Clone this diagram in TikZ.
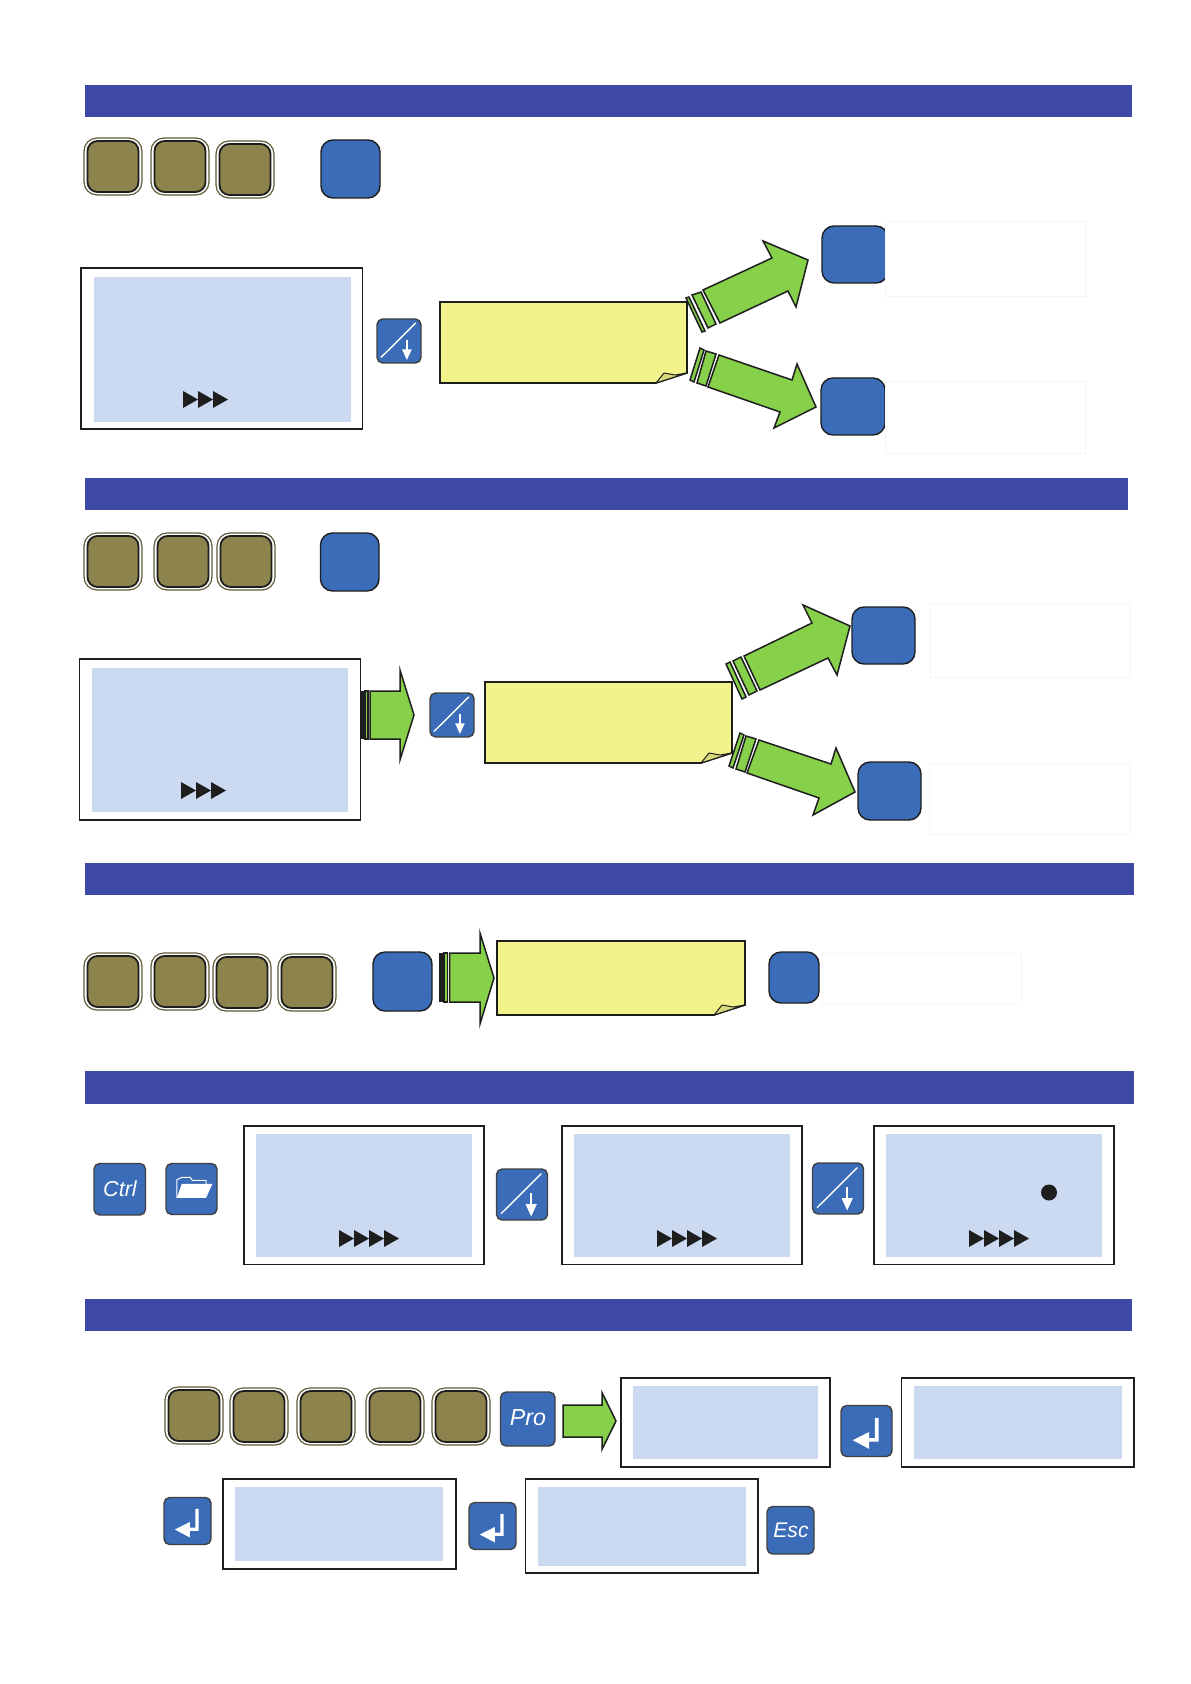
\documentclass[tikz,border=0pt]{standalone}
\usepackage{fontspec}
\setmainfont{Liberation Sans}
\usepackage{xcolor}
\usepackage{tikz}
\definecolor{barblue}{HTML}{3E48A5}
\definecolor{keyblue}{HTML}{3A6CB8}
\definecolor{keyolive}{HTML}{8C844C}
\definecolor{rimolive}{HTML}{5F5B38}
\definecolor{arrowgreen}{HTML}{86D04A}
\definecolor{notebg}{HTML}{F2F48B}
\definecolor{notefold}{HTML}{D9DB7A}
\definecolor{lcdbg}{HTML}{CBD9F1}
\definecolor{inkdark}{HTML}{1E1E1E}
\tikzset{
  bar/.style        = {fill=barblue, draw=none},
  keyrim/.style     = {draw=rimolive, fill=white, rounded corners=6.5pt, line width=0.6pt},
  keyface/.style    = {draw=inkdark, fill=keyolive, rounded corners=5pt, line width=0.9pt},
  bigkey/.style     = {draw=inkdark, fill=keyblue, rounded corners=6pt, line width=0.7pt},
  smallkey/.style   = {draw=inkdark!85, fill=keyblue, rounded corners=2.8pt, line width=0.7pt},
  lcd/.style        = {draw=inkdark, fill=white},
  lcdface/.style    = {fill=lcdbg, draw=none},
  blank/.style      = {draw=black!4, fill=white, line width=0.5pt},
  sticky/.style     = {draw=inkdark, fill=notebg, line width=0.8pt, line join=miter},
  fold/.style       = {draw=inkdark, fill=notefold, line width=0.5pt, line join=round},
  greenarrow/.style = {draw=inkdark, fill=arrowgreen, line width=0.75pt, line join=miter},
  keylbl/.style     = {text=white, inner sep=0pt},
  glyph/.style      = {draw=none, fill=white},
}
\newcommand{\olivekey}[2]{%
  \draw[keyrim] (#1,#2) rectangle ++(58,57);
  \draw[keyface] (#1+3.5,#2+3) rectangle ++(51,51);%
}
\newcommand{\scrollkey}[3]{%
  \begin{scope}[shift={(#1,#2)},x=#3*0.5pt,y=#3*-0.5pt]
    \draw[smallkey] (0,0) rectangle (1,1);
    \draw[white, line width=0.7pt] (0.09,0.875) -- (0.88,0.09);
    \draw[white, line width=0.8pt] (0.68,0.47) -- (0.68,0.74);
    \fill[glyph] (0.57,0.69) -- (0.79,0.69) -- (0.68,0.93) -- cycle;
  \end{scope}%
}
\newcommand{\returnkey}[3]{%
  \begin{scope}[shift={(#1,#2)},x=#3*0.5pt,y=#3*-0.5pt]
    \draw[smallkey] (0,0) rectangle (1,1);
    \fill[glyph] (0.665,0.24) -- (0.735,0.24) -- (0.735,0.71) -- (0.55,0.71) -- (0.55,0.85)
      -- (0.23,0.68) -- (0.55,0.52) -- (0.55,0.64) -- (0.665,0.64) -- cycle;
  \end{scope}%
}
\newcommand{\markers}[3]{%
  \foreach \i in {1,...,#3} {
    \fill[inkdark] (#1+15*\i-15,#2) -- ++(15,8.5) -- ++(-15,8.5) -- cycle;
  }%
}
\newcommand{\stickynote}[4]{%
  \draw[sticky] (#1,#2) -- (#3,#2) -- (#3,#4-10) -- (#3-31,#4) -- (#1,#4) -- cycle;
  \draw[fold] (#3-31,#4) -- (#3-23,#4-10) -- (#3-12,#4-8) -- (#3,#4-10) -- cycle;%
}
\begin{document}
\begin{tikzpicture}[x=0.5pt,y=-0.5pt]
  \useasboundingbox (0,0) rectangle (1190,1684);

  % section bars
  \foreach \xa/\ya/\xb/\yb in {85/85/1132/117, 85/478/1128/510, 85/863/1134/895,
    85/1071/1134/1104, 85/1299/1132/1331} {
    \fill[bar] (\xa,\ya) rectangle (\xb,\yb);
  }

  % olive keys
  \foreach \x/\y in {84/138, 151/138, 216/141, 84/533, 154/533, 217/533,
    84/953, 151/953, 213/954, 278/954,
    165/1387, 230/1388, 297/1388, 366/1388, 432/1388} {
    \olivekey{\x}{\y}
  }

  % large blue keys
  \foreach \xa/\ya/\xb/\yb in {321/140/380/198, 822/226/888/283, 821/378/885/435,
    320.5/533/379/591, 852/607/915/664, 858/762/921/820, 373/952/432/1011, 769/952/819/1003} {
    \draw[bigkey] (\xa,\ya) rectangle (\xb,\yb);
  }

  % blank boxes
  \foreach \xa/\ya/\xb/\yb in {885/222/1085/297, 885/382/1085/453, 930/603/1130/677,
    929/763/1130/834, 822/953/1021/1003} {
    \draw[blank] (\xa,\ya) rectangle (\xb,\yb);
  }

  % displays
  \foreach \lw/\xa/\ya/\xb/\yb/\ia/\ja/\ib/\jb in {
    0.55/81/268/362.5/429/94/277/351/422,
    0.7/79.5/659/360.5/820/91.5/668/348/812,
    0.9/244/1126/484/1264.5/256/1134/472/1257,
    0.9/562/1126/802/1264.5/574/1134/790/1257,
    0.9/874/1126/1114/1264.5/886/1134/1102/1257,
    0.9/621/1378/830/1467/633/1386/818/1459,
    0.9/901.5/1378/1134/1467/914/1386/1122/1459,
    0.9/223/1479/456/1569/235/1487/443/1561,
    0.55/525.5/1479/758/1573/538/1487/746/1566} {
    \draw[lcd, line width=\lw pt] (\xa,\ya) rectangle (\xb,\yb);
    \fill[lcdface] (\ia,\ja) rectangle (\ib,\jb);
  }
  \markers{183}{391}{3}
  \markers{181}{782}{3}
  \markers{339}{1230}{4}
  \markers{657}{1230}{4}
  \markers{969}{1230}{4}
  \fill[inkdark] (1049,1192.5) circle (4pt);

  % sticky notes
  \stickynote{440}{302}{687}{383}
  \stickynote{485}{682}{732}{763}
  \stickynote{497}{941}{745}{1015}

  % small keys
  \scrollkey{377}{319}{44}
  \scrollkey{430}{693}{44}
  \scrollkey{496.5}{1169}{51}
  \scrollkey{812.5}{1163}{51}
  \returnkey{841}{1405.5}{51}
  \returnkey{164}{1497.5}{47}
  \returnkey{469}{1502.5}{47}

  % labelled keys
  \draw[smallkey] (94,1163.5) rectangle (145.5,1215);
  \node[keylbl, font=\fontsize{10.8}{12}\selectfont\itshape] (ctrl) at (120,1189) {Ctrl};
  \draw[smallkey] (500.5,1392) rectangle (555,1446);
  \node[keylbl, font=\fontsize{11.6}{13}\selectfont\itshape] (pro) at (528,1418) {Pro};
  \draw[smallkey] (767,1506.5) rectangle (814,1554);
  \node[keylbl, font=\fontsize{10.6}{12}\selectfont\itshape] (esc) at (791,1530) {Esc};

  % folder key
  \begin{scope}[shift={(166,1163.5)},x=25.5pt,y=-25.5pt]
    \draw[smallkey] (0,0) rectangle (1,1);
    \draw[white, line width=0.5pt, line join=round] (0.214,0.673) -- (0.214,0.32) -- (0.31,0.27)
      -- (0.474,0.27) -- (0.52,0.333) -- (0.786,0.333) -- (0.786,0.397);
    \fill[glyph] (0.31,0.397) -- (0.91,0.397) -- (0.786,0.673) -- (0.214,0.673) -- cycle;
  \end{scope}

  % forked arrows, first section
  \draw[greenarrow] (703,290) -- (772,258) -- (763,241) -- (808,260) -- (796,307) -- (788,291) -- (720,323) -- cycle;
  \draw[greenarrow] (692,295) -- (701,292) -- (716,324) -- (708,328) -- cycle;
  \draw[greenarrow] (686,298) -- (689,297) -- (705,331) -- (702,332) -- cycle;
  \draw[greenarrow] (719,355) -- (792,380) -- (797,364) -- (816,407) -- (774,428) -- (780,412) -- (708,387) -- cycle;
  \draw[greenarrow] (706,351) -- (716,354) -- (706,386) -- (697,383) -- cycle;
  \draw[greenarrow] (700,348) -- (704,350) -- (694,382) -- (690,380) -- cycle;

  % forked arrows, second section
  \draw[greenarrow] (744,656) -- (812,623) -- (803,605) -- (850,626) -- (837,675) -- (828,658) -- (760,690) -- cycle;
  \draw[greenarrow] (733,661) -- (741,657) -- (757,691) -- (749,695) -- cycle;
  \draw[greenarrow] (726,664) -- (730,662) -- (746,697) -- (742,699) -- cycle;
  \draw[greenarrow] (759,740) -- (831,764) -- (836,748) -- (855,792) -- (813,815) -- (819,798) -- (747,773) -- cycle;
  \draw[greenarrow] (746,736) -- (756,739) -- (745,772) -- (736,769) -- cycle;
  \draw[greenarrow] (740,733) -- (744,735) -- (733,768) -- (729,766) -- cycle;

  % straight arrows
  \fill[inkdark] (361,691) rectangle (364,739);
  \draw[greenarrow] (365,691) rectangle (368,739);
  \draw[greenarrow] (370,691) -- (400,691) -- (400,670) -- (414,715) -- (400,760) -- (400,739) -- (370,739) -- cycle;
  \fill[inkdark] (439,953) rectangle (443,1002);
  \draw[greenarrow] (444,953) rectangle (447.5,1002);
  \draw[greenarrow] (449.5,953) -- (480,953) -- (480,933) -- (494,978) -- (480,1024) -- (480,1002) -- (449.5,1002) -- cycle;
  \draw[greenarrow] (563,1405) -- (602,1405) -- (602,1392.5) -- (616,1421) -- (602,1449.5) -- (602,1437) -- (563,1437) -- cycle;
\end{tikzpicture}
\end{document}
